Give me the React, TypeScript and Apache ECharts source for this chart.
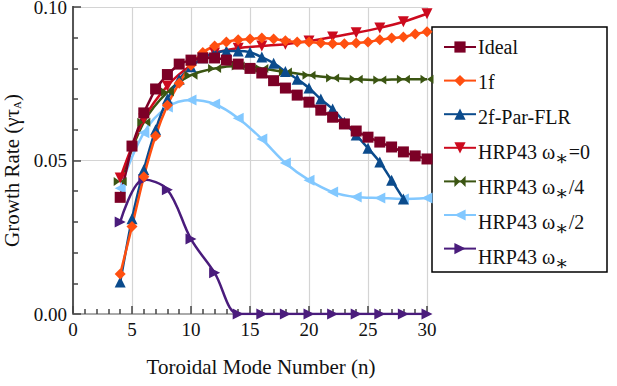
import React, { useEffect, useRef } from "react";
import * as echarts from "echarts";

const idealN = [4,5,6,7,8,9,10,11,12,13,14,15,16,17,18,19,20,21,22,23,24,25,26,27,28,29,30];
const idealV = [0.038,0.0547,0.0655,0.0733,0.078,0.0814,0.0827,0.0834,0.0834,0.0827,0.0814,0.080,0.0785,0.076,0.0736,0.0713,0.069,0.0664,0.0641,0.0619,0.0596,0.0576,0.056,0.0544,0.0528,0.0515,0.0505];

const f1N = [4,5,6,7,8,9,10,11,12,13,14,15,16,17,18,19,20,21,22,23,24,25,26,27,28,29,30];
const f1V = [0.013,0.0285,0.0447,0.058,0.068,0.0752,0.081,0.0852,0.0873,0.0886,0.0893,0.0896,0.0899,0.0896,0.089,0.0886,0.0886,0.0883,0.088,0.088,0.0883,0.0886,0.0893,0.0899,0.0902,0.0912,0.0919];

const f2N = [4,5,6,7,8,9,10,11,12,13,14,15,16,17,18,19,20,21,22,23,24,25,26,27,28];
const f2V = [0.0104,0.031,0.047,0.060,0.070,0.0765,0.0805,0.0835,0.085,0.0857,0.0857,0.0853,0.0837,0.0817,0.079,0.0765,0.0736,0.070,0.0668,0.0625,0.0583,0.054,0.0495,0.0436,0.0375];

const evenN = [4,6,8,10,12,14,16,18,20,22,24,26,28,30];
const hrp0V = [0.0443,0.0635,0.0743,0.081,0.085,0.0866,0.0873,0.0879,0.0889,0.0902,0.0916,0.0932,0.0952,0.0978];
const hrp4V = [0.0432,0.0625,0.0723,0.0778,0.080,0.0808,0.080,0.0788,0.0778,0.0769,0.0765,0.0762,0.0765,0.0765];
const hrp2V = [0.041,0.059,0.0674,0.0697,0.0684,0.0638,0.057,0.0492,0.0436,0.0397,0.0381,0.0378,0.0375,0.0378];
const hrp1V = [0.030,0.0438,0.0405,0.0244,0.0134,0.0,0.0,0.0,0.0,0.0,0.0,0.0,0.0,0.0];

const names = ["Ideal", "1f", "2f-Par-FLR", "HRP43 ω*=0", "HRP43 ω*/4", "HRP43 ω*/2", "HRP43 ω*"];
const xTicks = [0, 5, 10, 15, 20, 25, 30];
const yTicks = [0, 0.05, 0.1];

const FONT = "'Liberation Serif', 'DejaVu Serif', serif";
const bowtie = "path://M0,0 L10,5 L0,10 Z M20,0 L10,5 L20,10 Z";

function zip(xs: number[], ys: number[]) {
  return ys.map((v, i) => [xs[i], v]);
}

const LEG_TOP = 47;
const LEG_STEP = 35;

function legendLabel(n: string) {
  return n.replace("ω*", "ω{s|∗}");
}

export default function App() {
  const ref = useRef<HTMLDivElement>(null);
  useEffect(() => {
    if (!ref.current) return;
    const chart = echarts.init(ref.current, null, { renderer: "svg" });
    const mk = (name: string, data: number[][], color: string, symbol: string, size: any, rot = 0, smooth: any = 0.3) => ({
      name,
      type: "line",
      xAxisIndex: 0,
      yAxisIndex: 0,
      data,
      smooth,
      symbol,
      symbolSize: size,
      symbolRotate: rot,
      lineStyle: { color, width: 2.5 },
      itemStyle: { color },
      z: 3,
    });
    chart.setOption({
      animation: false,
      textStyle: { fontFamily: FONT },
      grid: [
        { left: 73, right: 190, top: 7, bottom: 72, outerBoundsMode: "none", containLabel: false },
        { left: 470, right: 139, top: LEG_TOP - LEG_STEP / 2, height: LEG_STEP * names.length, outerBoundsMode: "none", containLabel: false },
      ],
      graphic: [
        {
          type: "rect",
          z: 1,
          shape: { x: 432, y: 27, width: 175, height: 245 },
          style: { fill: "#fff", stroke: "#000", lineWidth: 1.5 },
        },
      ],
      legend: {
        orient: "vertical",
        left: 443,
        top: LEG_TOP - 7,
        z: 10,
        data: names,
        padding: 0,
        itemWidth: 32,
        itemHeight: 14,
        itemGap: LEG_STEP - 14,
        formatter: () => "",
        selectedMode: false,
      },
      xAxis: [
        {
          type: "value",
          gridIndex: 0,
          min: 0,
          max: 30,
          interval: 5,
          name: "Toroidal Mode Number (n)",
          nameLocation: "middle",
          nameGap: 42,
          nameTextStyle: { fontFamily: FONT, fontSize: 21, color: "#111", padding: [0, 0, 0, 22] },
          axisLine: { lineStyle: { color: "#444", width: 2 } },
          axisTick: { inside: true, length: 8, lineStyle: { color: "#444", width: 1.5 } },
          minorTick: { show: true, splitNumber: 5, length: 5, lineStyle: { color: "#444", width: 1.5 } },
          axisLabel: { fontFamily: FONT, fontSize: 19, color: "#111", margin: 6, formatter: (v: number) => (xTicks.includes(v) ? String(v) : "") },
          splitLine: { show: true, lineStyle: { color: "#d4d4d4", width: 1.2 } },
        },
        {
          type: "value",
          gridIndex: 0,
          position: "top",
          min: 0,
          max: 30,
          axisLine: { show: true, lineStyle: { color: "#aaa", width: 2 } },
          axisTick: { show: false },
          axisLabel: { show: false },
          splitLine: { show: false },
        },
        {
          type: "value",
          gridIndex: 1,
          show: false,
          min: 0,
          max: 1,
        },
      ],
      yAxis: [
        {
          type: "value",
          gridIndex: 0,
          min: 0,
          max: 0.1,
          interval: 0.05,
          name: "Growth Rate (γτ{s|A})",
          nameLocation: "middle",
          nameGap: 45,
          nameRotate: 90,
          nameTextStyle: {
            fontFamily: FONT,
            fontSize: 21,
            color: "#111",
            padding: [0, 0, 0, -20],
            rich: { s: { fontFamily: FONT, fontSize: 11, color: "#111", verticalAlign: "bottom", padding: [10, 0, 0, 0] } },
          },
          axisLine: { show: true, lineStyle: { color: "#444", width: 2 } },
          axisTick: { show: true, inside: true, length: 8, lineStyle: { color: "#444", width: 1.5 } },
          minorTick: { show: true, splitNumber: 5, length: 5, lineStyle: { color: "#444", width: 1.5 } },
          axisLabel: { fontFamily: FONT, fontSize: 19, color: "#111", margin: 6, formatter: (v: number) => (yTicks.some((t) => Math.abs(t - v) < 1e-9) ? v.toFixed(2) : "") },
          splitLine: { show: true, lineStyle: { color: "#d4d4d4", width: 1.2 } },
        },
        {
          type: "value",
          gridIndex: 0,
          position: "right",
          min: 0,
          max: 0.1,
          axisLine: { show: true, lineStyle: { color: "#555", width: 2 } },
          axisTick: { show: false },
          axisLabel: { show: false },
          splitLine: { show: false },
        },
        {
          type: "category",
          gridIndex: 1,
          position: "right",
          inverse: true,
          data: names,
          z: 50,
          axisLine: { show: false },
          axisTick: { show: false },
          splitLine: { show: false },
          axisLabel: {
            margin: 0,
            interval: 0,
            fontFamily: FONT,
            fontSize: 20,
            color: "#111",
            formatter: legendLabel,
            rich: { s: { fontFamily: FONT, fontSize: 20, color: "#111", verticalAlign: "bottom", padding: [12, 0, 0, 0] } },
          },
        },
      ],
      series: [
        mk(names[6], zip(evenN, hrp1V), "#4a1c7c", "triangle", 11, -90, 0.35),
        mk(names[5], zip(evenN, hrp2V), "#82c8ff", "triangle", 11, 90, 0.35),
        mk(names[4], zip(evenN, hrp4V), "#3b5512", bowtie, [13, 9], 0, 0.3),
        mk(names[3], zip(evenN, hrp0V), "#cc0a1e", "triangle", 11, 180, 0.3),
        mk(names[2], zip(f2N, f2V), "#0b4b8c", "triangle", 11, 0, 0.2),
        mk(names[1], zip(f1N, f1V), "#ff4f10", "diamond", 11, 0, 0.2),
        mk(names[0], zip(idealN, idealV), "#7c0026", "rect", 11, 0, 0.1),
      ],
    });
    return () => chart.dispose();
  }, []);
  return <div ref={ref} style={{ position: "absolute", left: 0, top: 0, width: 617, height: 386 }} />;
}
